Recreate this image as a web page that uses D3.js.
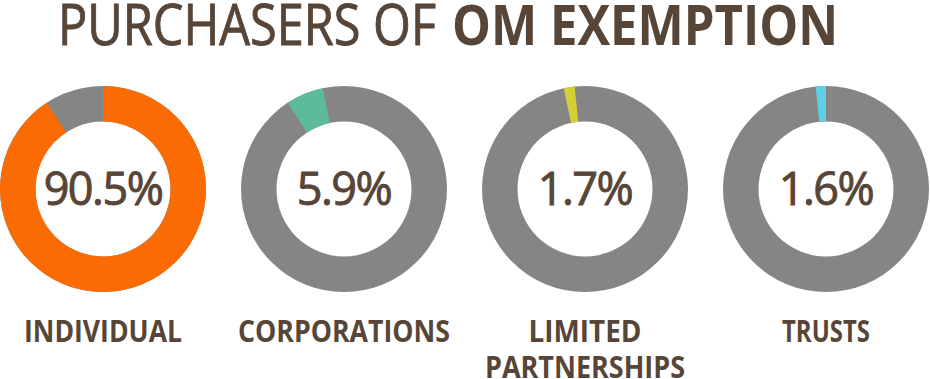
<html lang="en">
<head>
<style>
body { margin: 0; background: #fff; }
text { font-family: "Open Sans", sans-serif; fill: #574537; }
.thick { stroke: #574537; stroke-width: 0.9px; }
</style>
</head>
<body>
<script type='text/javascript' src='https://d3js.org/d3.v7.min.js'></script>
<script>
// purchaser categories and their share (%)
const categories = ["INDIVIDUAL", "CORPORATIONS", "LIMITED PARTNERSHIPS", "TRUSTS"];
const shares = [90.5, 5.9, 1.7, 1.6];
const valueLabels = ["90.5%", "5.9%", "1.7%", "1.6%"];
const labelLines = [["INDIVIDUAL"], ["CORPORATIONS"], ["LIMITED", "PARTNERSHIPS"], ["TRUSTS"]];

const colors = ["#fb6b04", "#5cbc99", "#d5cf36", "#5dd0e8"];
const grey = "#858585";

const width = 930, height = 379;
const outerR = 103, innerR = 67.5, cy = 189;

var svg = d3.select("body").append("svg")
  .attr("width", width)
  .attr("height", height);

// title, two weights, squeezed to the width of the original
svg.append("text")
  .attr("class", "thick")
  .attr("x", 58)
  .attr("y", 45)
  .attr("font-size", 56)
  .attr("textLength", 378)
  .attr("lengthAdjust", "spacingAndGlyphs")
  .text("PURCHASERS OF");
svg.append("text")
  .attr("x", 452)
  .attr("y", 45)
  .attr("font-size", 56)
  .attr("font-weight", 700)
  .attr("textLength", 386)
  .attr("lengthAdjust", "spacingAndGlyphs")
  .text("OM EXEMPTION");

var x = d3.scalePoint()
  .domain(categories)
  .range([103, 826]);

// every ring holds all four shares stacked from 12 o'clock, only one is coloured
var pie = d3.pie().sort(null).value(function(d) { return d; });
var slices = pie(shares);

var arc = d3.arc().innerRadius(innerR).outerRadius(outerR);

var charts = svg.selectAll(".chart")
  .data(categories)
  .enter()
  .append("g")
  .attr("class", "chart")
  .attr("transform", function(d) { return "translate(" + x(d) + "," + cy + ")"; });

charts.append("path")
  .attr("d", arc({startAngle: 0, endAngle: 2 * Math.PI}))
  .attr("fill", grey);

charts.append("path")
  .attr("d", function(d, i) { return arc(slices[i]); })
  .attr("fill", function(d, i) { return colors[i]; });

charts.append("text")
  .attr("class", "thick")
  .attr("text-anchor", "middle")
  .attr("y", 16)
  .attr("font-size", 45)
  .attr("letter-spacing", -1.5)
  .text(function(d, i) { return valueLabels[i]; });

// category names under each ring
var labelWidths = {"INDIVIDUAL": 158, "CORPORATIONS": 212, "LIMITED": 113, "PARTNERSHIPS": 200, "TRUSTS": 88};

charts.each(function(d, i) {
  var g = d3.select(this);
  labelLines[i].forEach(function(line, j) {
    g.append("text")
      .attr("x", -labelWidths[line] / 2)
      .attr("y", 153 + j * 36)
      .attr("font-size", 30)
      .attr("font-weight", 700)
      .attr("textLength", labelWidths[line])
      .attr("lengthAdjust", "spacingAndGlyphs")
      .text(line);
  });
});
</script>
</body>
</html>
